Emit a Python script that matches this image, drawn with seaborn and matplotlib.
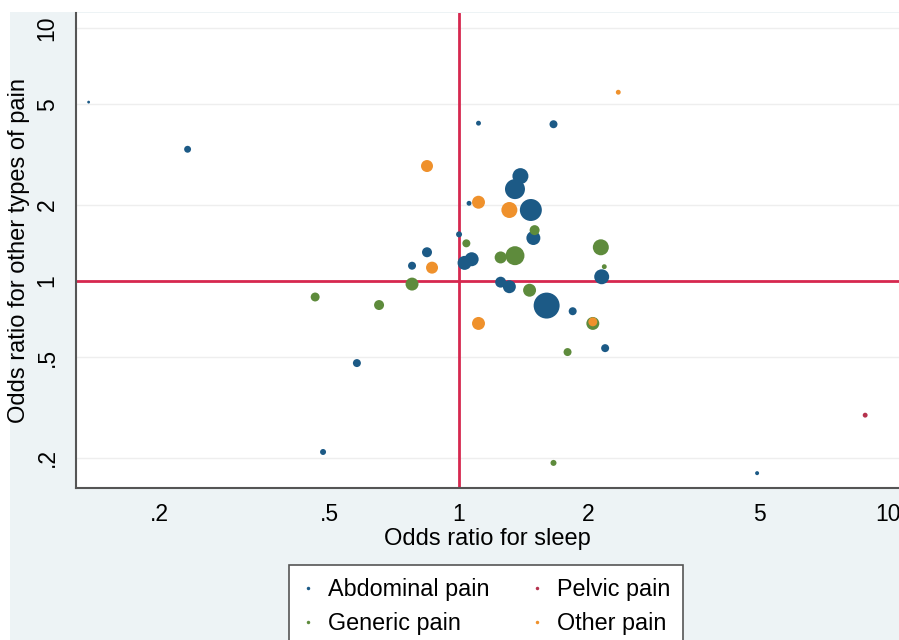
import matplotlib
matplotlib.use("Agg")
import matplotlib.pyplot as plt
from matplotlib.lines import Line2D
from matplotlib.patches import Rectangle
import pandas as pd
import seaborn as sns

# ── data ──────────────────────────────────────────────────────────────
or_sleep = [0.137, 0.233, 0.777, 0.842, 0.578, 0.482, 1.11, 1.66, 1.39, 1.35,
            1.055, 1.47, 1.49, 1.0, 1.07, 1.03, 2.15, 1.25, 1.31, 1.60,
            1.84, 2.19, 4.95,
            0.777, 0.462, 0.651, 1.50, 1.04, 1.25, 1.35, 2.14, 2.18, 1.46,
            2.05, 1.79, 1.66,
            8.84,
            0.842, 0.865, 2.35, 1.11, 1.31, 1.11, 2.05]
or_other = [5.10, 3.32, 1.15, 1.30, 0.474, 0.211, 4.21, 4.17, 2.60, 2.31,
            2.03, 1.91, 1.48, 1.53, 1.22, 1.18, 1.04, 0.99, 0.95, 0.80,
            0.76, 0.543, 0.174,
            0.973, 0.865, 0.804, 1.59, 1.41, 1.24, 1.26, 1.36, 1.14, 0.92,
            0.68, 0.524, 0.191,
            0.295,
            2.85, 1.13, 5.58, 2.05, 1.91, 0.68, 0.69]
weight = [2, 12, 16, 25, 16, 9, 6, 16, 64, 100,
          6, 121, 49, 9, 49, 49, 56, 30, 42, 169,
          16, 16, 4,
          42, 20, 25, 25, 16, 36, 90, 64, 6, 42,
          42, 16, 9,
          6,
          36, 36, 6, 42, 64, 42, 20]
pain_type = (["Abdominal pain"] * 23 + ["Generic pain"] * 13
             + ["Pelvic pain"] + ["Other pain"] * 7)

pain_order = ["Abdominal pain", "Generic pain", "Pelvic pain", "Other pain"]
palette = {
    "Abdominal pain": "#1c5a86",
    "Generic pain": "#5e8b3c",
    "Pelvic pain": "#b5324d",
    "Other pain": "#ef912c",
}
y_ticks = [0.2, 0.5, 1, 2, 5, 10]
y_labels = [".2", ".5", "1", "2", "5", "10"]
x_ticks = [0.2, 0.5, 1, 2, 5, 10]
x_labels = [".2", ".5", "1", "2", "5", "10"]

df = pd.DataFrame({
    "or_sleep": or_sleep,
    "or_other": or_other,
    "weight": weight,
    "pain": pain_type,
})

# ── plot ──────────────────────────────────────────────────────────────
sns.set_style("white")
plt.rcParams["font.family"] = ["Liberation Sans", "DejaVu Sans"]
plt.rcParams["text.color"] = "black"
plt.rcParams["axes.labelcolor"] = "black"

fig = plt.figure(figsize=(8.99, 6.40), dpi=100, facecolor="white")
fig.patches.append(Rectangle((10 / 899, 0), 1, 1 - 12 / 640,
                             transform=fig.transFigure,
                             facecolor="#edf3f5", edgecolor="none", zorder=-5))
ax = fig.add_axes([0.0845, 0.2375, 0.9155, 0.7425])
ax.set_facecolor("white")

ax.set_xscale("log")
ax.set_yscale("log")

ax.axvline(1, color="#d6284f", lw=2, zorder=2)
ax.axhline(1, color="#d6284f", lw=2, zorder=2)

sns.scatterplot(
    data=df, x="or_sleep", y="or_other",
    hue="pain", hue_order=pain_order, palette=palette,
    size="weight", size_norm=(0, 169), sizes=(0, 350),
    linewidth=0, alpha=1, legend=False, zorder=3, ax=ax,
)

ax.set_xlim(0.128, 10.6)
ax.set_ylim(0.152, 11.5)
ax.set_xticks(x_ticks)
ax.set_xticklabels(x_labels)
ax.set_yticks(y_ticks)
ax.set_yticklabels(y_labels, rotation=90, va="center")
ax.minorticks_off()

ax.yaxis.grid(True, color="#eeeeee", lw=1)
ax.xaxis.grid(False)
ax.set_axisbelow(True)

for side in ["top", "right"]:
    ax.spines[side].set_visible(False)
for side in ["left", "bottom"]:
    ax.spines[side].set_color("#555555")
    ax.spines[side].set_linewidth(1.5)
ax.tick_params(axis="both", direction="out", length=6.5, width=1.2,
               color="#555555", labelsize=16.5, labelcolor="black")
ax.tick_params(axis="x", pad=4)
ax.tick_params(axis="y", pad=6)

ax.set_xlabel("Odds ratio for sleep", fontsize=17, labelpad=2)
ax.set_ylabel("Odds ratio for other types of pain", fontsize=17, labelpad=4)

# legend: two columns, tiny dots like the original
legend_order = ["Abdominal pain", "Generic pain", "Pelvic pain", "Other pain"]
handles = [Line2D([], [], ls="none", marker="o", markersize=2.5,
                  markerfacecolor=palette[k], markeredgecolor="none")
           for k in legend_order]
leg = fig.legend(handles, legend_order, ncol=2, loc="upper center",
                 bbox_to_anchor=(0.541, 0.117), bbox_transform=fig.transFigure,
                 fontsize=16.8, frameon=True, fancybox=False, framealpha=1,
                 handlelength=0.5, handletextpad=0.6, columnspacing=1.8,
                 labelspacing=0.47, borderpad=0.55, borderaxespad=0)
leg.get_frame().set_edgecolor("#555555")
leg.get_frame().set_linewidth(1.2)
leg.get_frame().set_facecolor("white")

fig.savefig("out.png", dpi=100)
plt.close(fig)
